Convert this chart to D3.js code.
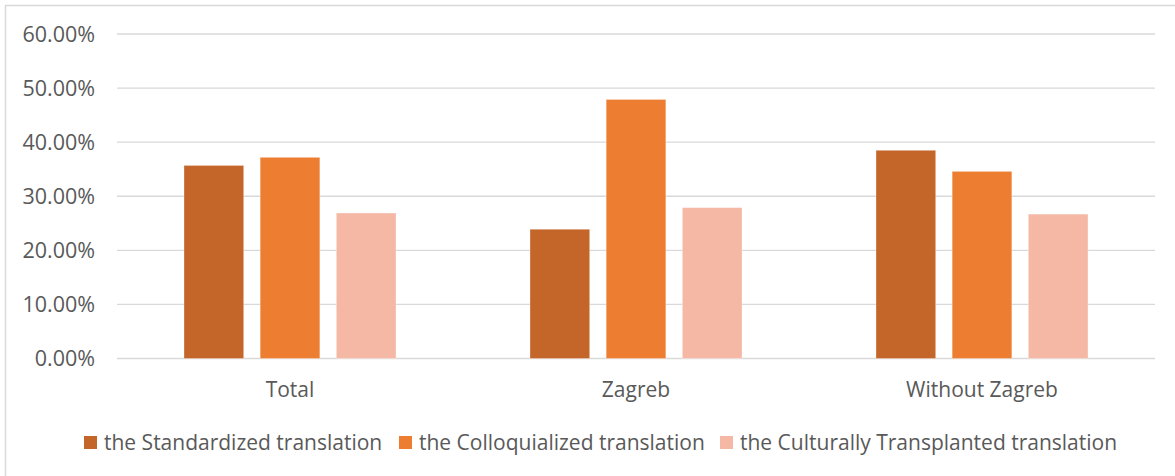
<!DOCTYPE html>
<html>
<head>
<meta charset="utf-8">
<script src="https://cdn.jsdelivr.net/npm/d3@7"></script>
<style>
  body { margin: 0; background: #fff; }
  svg { display: block; font-family: "Open Sans", sans-serif; }
</style>
</head>
<body>
<svg id="chart" width="1175" height="476"></svg>
<script>
// data
const categories = ["Total", "Zagreb", "Without Zagreb"];
const seriesNames = ["the Standardized translation", "the Colloquialized translation", "the Culturally Transplanted translation"];
const standardized = [0.357, 0.239, 0.385];
const colloquialized = [0.372, 0.479, 0.346];
const transplanted = [0.269, 0.279, 0.267];
const tickValues = [0, 0.1, 0.2, 0.3, 0.4, 0.5, 0.6];
const colors = ["#C4652A", "#ED7D31", "#F4B8A5"];

const seriesValues = [standardized, colloquialized, transplanted];

const svg = d3.select("#chart");
const plotLeft = 117, plotRight = 1155, plotTop = 34, plotBottom = 358.5;

// chart frame (open on right / bottom, like the crop)
svg.append("path")
    .attr("d", "M5.5,480 L5.5,5.5 L1180,5.5")
    .attr("fill", "none").attr("stroke", "#D9D9D9").attr("stroke-width", 1.5);

const y = d3.scaleLinear().domain([0, 0.6]).range([plotBottom, plotTop]);
const x0 = d3.scaleBand().domain(categories).range([plotLeft, plotRight]);
const x1 = d3.scaleBand().domain(d3.range(seriesNames.length))
    .range([0, x0.bandwidth()]).paddingInner(0.216).paddingOuter(0.88);

// gridlines
svg.append("g").selectAll("line").data(tickValues).enter().append("line")
    .attr("x1", plotLeft).attr("x2", plotRight)
    .attr("y1", d => y(d)).attr("y2", d => y(d))
    .attr("stroke", "#D9D9D9").attr("stroke-width", 1.3);

// y tick labels
svg.append("g").selectAll("text").data(tickValues).enter().append("text")
    .attr("x", 95).attr("y", d => y(d))
    .attr("dy", "0.36em").attr("text-anchor", "end")
    .attr("fill", "#595959").style("font-size", "21.5px")
    .text(d => d3.format(".2%")(d));

// bars
const groups = svg.append("g").selectAll("g").data(categories).enter().append("g")
    .attr("transform", d => "translate(" + x0(d) + ",0)");

groups.selectAll("rect")
    .data((c, i) => seriesValues.map((vals, s) => ({ s: s, v: vals[i] })))
    .enter().append("rect")
    .attr("x", d => x1(d.s))
    .attr("width", x1.bandwidth())
    .attr("y", d => y(d.v))
    .attr("height", d => y(0) - y(d.v))
    .attr("fill", d => colors[d.s])
    .attr("stroke", "#fff").attr("stroke-opacity", 0.4).attr("stroke-width", 0.8);

// category labels
svg.append("g").selectAll("text").data(categories).enter().append("text")
    .attr("x", d => x0(d) + x0.bandwidth() / 2).attr("y", 397)
    .attr("text-anchor", "middle")
    .attr("fill", "#595959").style("font-size", "21px")
    .text(d => d);

// legend
const legendX = [84, 399, 720];
const legend = svg.append("g").selectAll("g").data(seriesNames).enter().append("g")
    .attr("transform", (d, i) => "translate(" + legendX[i] + ",436)");
legend.append("rect").attr("width", 13).attr("height", 13)
    .attr("fill", (d, i) => colors[i]);
legend.append("text").attr("x", 20).attr("y", 14)
    .attr("fill", "#595959").style("font-size", "21px")
    .text(d => d);
</script>
</body>
</html>
